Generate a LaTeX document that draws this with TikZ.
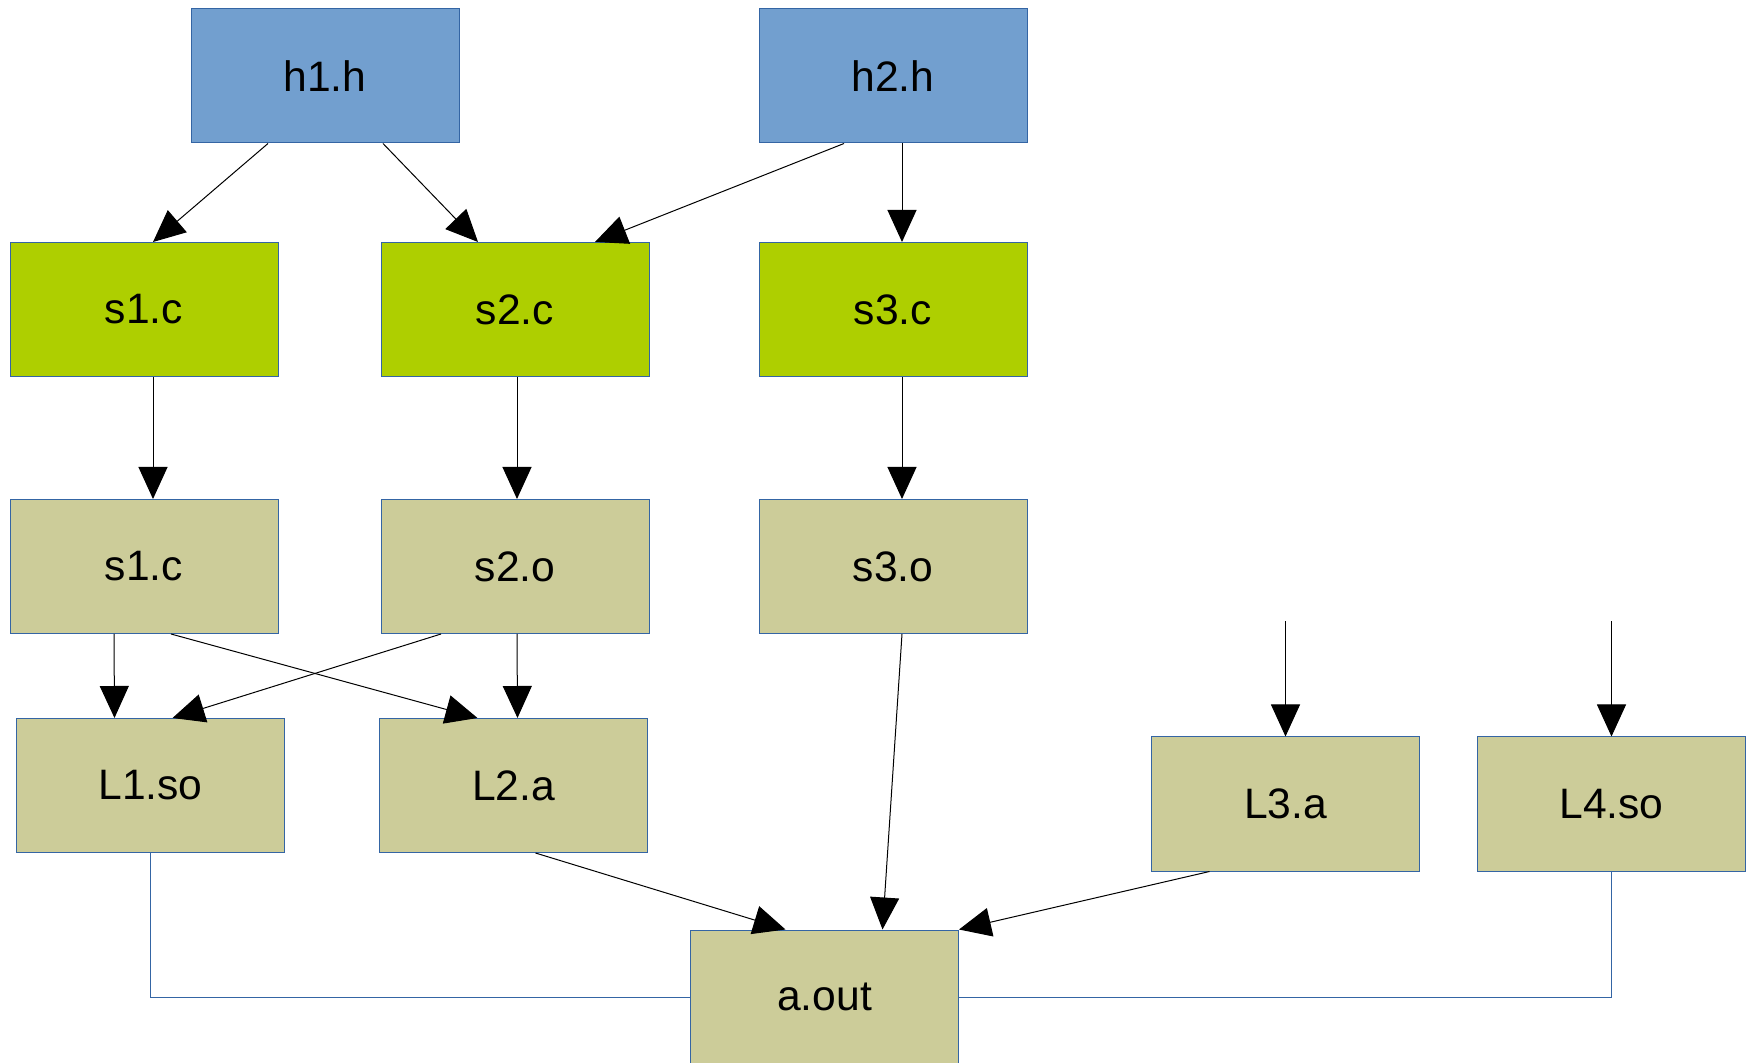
\documentclass[tikz,border=0pt]{standalone}
\usepackage{fontspec}
\setmainfont{Liberation Sans}
\usepackage{xcolor}
\usepackage{tikz}
\usetikzlibrary{arrows.meta,positioning,calc}
\definecolor{HdrBlue}{HTML}{729FCF}
\definecolor{SrcGreen}{HTML}{AECF00}
\definecolor{ObjTan}{HTML}{CCCC99}
\definecolor{EdgeBlue}{HTML}{3465A4}
\tikzset{
  filebox/.style={draw=EdgeBlue,line width=0.5pt,minimum width=134pt,minimum height=67pt,inner sep=0pt,font=\fontsize{21.3}{25}\selectfont},
  hdrbox/.style={filebox,fill=HdrBlue},
  srcbox/.style={filebox,fill=SrcGreen},
  objbox/.style={filebox,fill=ObjTan},
  deparrow/.style={-{Triangle[length=16pt,width=14.5pt]},line width=0.5pt,draw=black},
  linkline/.style={line width=0.5pt,draw=EdgeBlue}
}
\begin{document}
\begin{tikzpicture}[x=0.5pt,y=-0.5pt]
\useasboundingbox (0,0) rectangle (1752,1063);
% headers
\node[hdrbox] (h1) at (325,76) {h1.h};
\node[hdrbox] (h2) at (893,76) {h2.h};
% sources
\node[srcbox] (s1c) at (144,309.5) {s1.c};
\node[srcbox] (s2c) at (515,309.5) {s2.c};
\node[srcbox] (s3c) at (893,309.5) {s3.c};
% objects
\node[objbox] (s1o) at (144,566.5) {s1.c};
\node[objbox] (s2o) at (515,566.5) {s2.o};
\node[objbox] (s3o) at (893,566.5) {s3.o};
% libraries
\node[objbox] (L1) at (150.5,785.5) {L1.so};
\node[objbox] (L2) at (513.5,785.5) {L2.a};
\node[objbox] (L3) at (1285.5,804) {L3.a};
\node[objbox] (L4) at (1611.5,804) {L4.so};
\node[objbox] (aout) at (824.5,997) {a.out};
\coordinate (in3) at ([yshift=57.5pt]L3.north);
\coordinate (in4) at ([yshift=57.5pt]L4.north);
% dependencies
\draw[deparrow] ([xshift=-28.5pt]h1.south) -- ([xshift=4.5pt]s1c.north);
\draw[deparrow] ([xshift=29pt]h1.south) -- ([xshift=-18.5pt]s2c.north);
\draw[deparrow] ([xshift=-24.5pt]h2.south) -- ([xshift=40pt]s2c.north);
\draw[deparrow] ([xshift=4.5pt]h2.south) -- ([xshift=4.5pt]s3c.north);
\draw[deparrow] ([xshift=4.5pt]s1c.south) -- ([xshift=4.5pt]s1o.north);
\draw[deparrow] ([xshift=1pt]s2c.south) -- ([xshift=1pt]s2o.north);
\draw[deparrow] ([xshift=4.5pt]s3c.south) -- ([xshift=4.5pt]s3o.north);
\draw[deparrow] ([xshift=-15pt]s1o.south) -- ([xshift=-18pt]L1.north);
\draw[deparrow] ([xshift=13.5pt]s1o.south) -- ([xshift=-18pt]L2.north);
\draw[deparrow] ([xshift=-37pt]s2o.south) -- ([xshift=11pt]L1.north);
\draw[deparrow] ([xshift=1pt]s2o.south) -- ([xshift=2pt]L2.north);
\draw[deparrow] ([xshift=4.5pt]s3o.south) -- ([xshift=29pt]aout.north);
\draw[deparrow] ([xshift=11pt]L2.south) -- ([xshift=-19.5pt]aout.north);
\draw[deparrow] ([xshift=-38pt]L3.south) -- (aout.north east);
\draw[deparrow] (in3) -- (L3.north);
\draw[deparrow] (in4) -- (L4.north);
% links
\draw[linkline] (L1.south) |- (aout.west);
\draw[linkline] (L4.south) |- (aout.east);
\end{tikzpicture}
\end{document}
